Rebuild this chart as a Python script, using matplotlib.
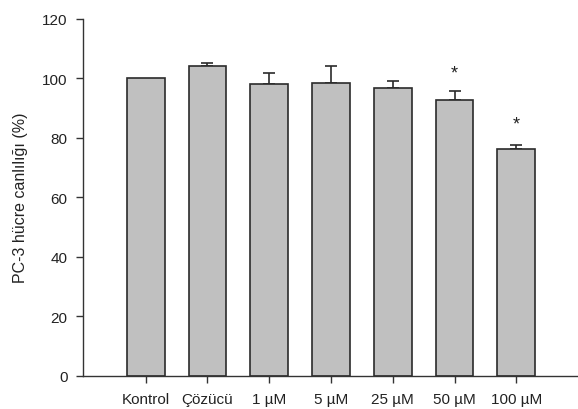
import matplotlib
matplotlib.use("Agg")
import matplotlib.pyplot as plt
import numpy as np

groups = ["Kontrol", "Çözücü", "1 µM", "5 µM", "25 µM", "50 µM", "100 µM"]
viability = [100.0, 104.1, 98.0, 98.5, 96.6, 92.6, 76.1]
errors = [0.0, 1.0, 3.7, 5.6, 2.6, 3.0, 1.5]
star_at = [None, None, None, None, None, 101.7, 84.6]

plt.rcParams["font.family"] = ["Liberation Sans", "DejaVu Sans"]

fig = plt.figure(figsize=(5.78, 4.10), dpi=100)
ax = fig.add_axes([0.143, 0.081, 0.855, 0.871])

x = np.arange(len(groups))
ax.bar(x, viability, width=0.61, color="#c0c0c0", edgecolor="#2b2b2b", linewidth=1.2, zorder=2)
err_x = [xi for xi, e in zip(x, errors) if e > 0]
err_y = [v for v, e in zip(viability, errors) if e > 0]
err_e = [e for e in errors if e > 0]
ax.errorbar(err_x, err_y, yerr=[[0] * len(err_e), err_e], fmt="none",
            ecolor="#2b2b2b", elinewidth=1.2, capsize=4, capthick=1.2, zorder=1)

for xi, s in zip(x, star_at):
    if s is not None:
        ax.text(xi, s, "*", ha="center", va="center", fontsize=13, color="#222222")

ax.set_xlim(-1.02, 6.98)
ax.set_ylim(0, 120)
ax.set_yticks(np.arange(0, 121, 20))
ax.set_xticks(x)
ax.set_xticklabels(groups)
ax.set_ylabel("PC-3 hücre canlılığı (%)", fontsize=11.5, color="#222222", labelpad=10)

for side in ("top", "right"):
    ax.spines[side].set_visible(False)
for side in ("left", "bottom"):
    ax.spines[side].set_color("#333333")
    ax.spines[side].set_linewidth(1.0)
ax.tick_params(axis="both", labelsize=11, length=5, width=1.0, color="#333333",
               labelcolor="#222222")
ax.tick_params(axis="x", pad=7)
ax.tick_params(axis="y", pad=6)

fig.savefig("out.png", dpi=100)
